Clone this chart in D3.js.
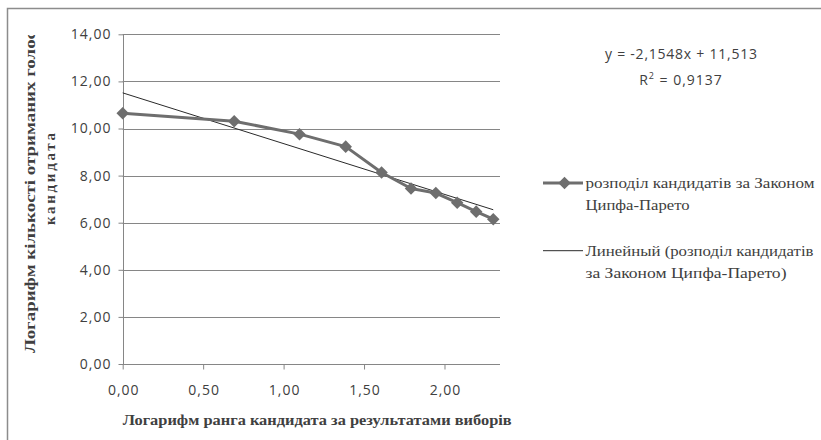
<!DOCTYPE html>
<html>
<head>
<meta charset="utf-8">
<script src="https://cdn.jsdelivr.net/npm/d3@7"></script>
<style>
  body { margin: 0; background: #fff; }
  svg { display: block; }
</style>
</head>
<body>
<div class="chart"></div>
<script>
// rank logarithm (x) and vote-count logarithm (y)
const logRank = [0, 0.693, 1.099, 1.386, 1.609, 1.792, 1.946, 2.079, 2.197, 2.303];
const logVotes = [10.65, 10.31, 9.76, 9.23, 8.13, 7.45, 7.26, 6.85, 6.47, 6.15];
const yTicks = [0, 2, 4, 6, 8, 10, 12, 14];
const xTicks = [0, 0.5, 1, 1.5, 2];
// linear trend as printed on the chart
const trendSlope = -2.1548;
const trendIntercept = 11.513;
const eqLabels = ["y = -2,1548x + 11,513", "R", "2", " = 0,9137"];
const legendLabels = [
    ["розподіл кандидатів за Законом", "Ципфа-Парето"],
    ["Линейный (розподіл кандидатів", "за Законом Ципфа-Парето)"]
];
// widths of the legend lines in the picture
const legendWidths = [[229, 104], [228, 201]];

const W = 821, H = 440;
const plot = { left: 122.7, right: 500, top: 34.3, bottom: 364 };
const txt = "#404040";
const grey = "#868686";
const sansFont = "'Open Sans', sans-serif";
const serifFont = "'Liberation Serif', 'DejaVu Serif', serif";

const fmt = v => d3.format(".2f")(v).replace(".", ",");

const svg = d3.select(".chart")
    .append("svg")
        .attr("width", W)
        .attr("height", H);

// outer chart border (only top and left in view)
svg.append("path")
    .attr("d", `M7.5,${H} V8.5 H${W}`)
    .attr("fill", "none")
    .attr("stroke", "#8c8c8c")
    .attr("stroke-width", 1.5);

const x = d3.scaleLinear().domain([0, 2.345]).range([plot.left, plot.right]);
const y = d3.scaleLinear().domain([0, 14]).range([plot.bottom, plot.top]);

// horizontal gridlines
svg.append("g")
    .selectAll("line")
    .data(yTicks.filter(d => d > 0))
    .join("line")
        .attr("x1", plot.left)
        .attr("x2", plot.right)
        .attr("y1", d => Math.round(y(d)) + 0.5)
        .attr("y2", d => Math.round(y(d)) + 0.5)
        .attr("stroke", grey);

// y axis
const yAxis = svg.append("g")
    .attr("transform", `translate(${Math.round(plot.left) + 0.5},0)`)
    .call(d3.axisLeft(y).tickValues(yTicks).tickFormat(fmt).tickSize(5).tickPadding(7));

// x axis
const xAxis = svg.append("g")
    .attr("transform", `translate(0,${Math.round(plot.bottom) + 0.5})`)
    .call(d3.axisBottom(x).tickValues(xTicks).tickFormat(fmt).tickSize(5).tickPadding(16));

[yAxis, xAxis].forEach(g => {
    g.select(".domain").attr("stroke", grey);
    g.selectAll(".tick line").attr("stroke", grey);
    g.selectAll("text")
        .attr("fill", txt)
        .style("font-family", sansFont)
        .style("font-size", "14px")
        .style("letter-spacing", "1px");
});
xAxis.selectAll("text").attr("dx", "0.5px");
xAxis.select(".domain").attr("d", `M${plot.left},0H${plot.right}`);
yAxis.select(".domain").attr("d", `M0,${plot.bottom}V${plot.top}`);

// trend line from the printed equation
const trendX = [0, d3.max(logRank)];
svg.append("line")
    .attr("x1", x(trendX[0]))
    .attr("y1", y(trendSlope * trendX[0] + trendIntercept))
    .attr("x2", x(trendX[1]))
    .attr("y2", y(trendSlope * trendX[1] + trendIntercept))
    .attr("stroke", "#2a2a2a")
    .attr("stroke-width", 1);

// data series
const points = logRank.map((v, i) => ({ x: v, y: logVotes[i] }));
const seriesColor = "#6e6e6e";
svg.append("path")
    .datum(points)
    .attr("d", d3.line().x(d => x(d.x)).y(d => y(d.y)))
    .attr("fill", "none")
    .attr("stroke", seriesColor)
    .attr("stroke-width", 3)
    .attr("stroke-linejoin", "round");

const diamond = d3.symbol().type(d3.symbolDiamond2).size(100);
svg.append("g")
    .selectAll("path")
    .data(points)
    .join("path")
        .attr("d", diamond)
        .attr("transform", d => `translate(${x(d.x)},${y(d.y)})`)
        .attr("fill", seriesColor);

// equation label
const eq = svg.append("g")
    .attr("fill", txt)
    .style("font-family", sansFont)
    .style("font-size", "14px");
eq.append("text")
    .attr("x", 681)
    .attr("y", 59)
    .attr("text-anchor", "middle")
    .attr("textLength", 152)
    .text(eqLabels[0]);
const r2 = eq.append("text")
    .attr("x", 681)
    .attr("y", 85)
    .attr("text-anchor", "middle")
    .style("letter-spacing", "1px");
r2.append("tspan").text(eqLabels[1]);
r2.append("tspan").attr("dy", -6).style("font-size", "9px").text(eqLabels[2]);
r2.append("tspan").attr("dy", 6).text(eqLabels[3]);

// axis titles
svg.append("text")
    .attr("x", 122.7)
    .attr("y", 425)
    .attr("textLength", 389)
    .attr("lengthAdjust", "spacingAndGlyphs")
    .attr("fill", txt)
    .style("font-family", serifFont)
    .style("font-weight", "bold")
    .style("font-size", "15px")
    .text("Логарифм ранга кандидата за результатами виборів");

svg.append("clipPath")
    .attr("id", "ytitle-clip")
    .append("rect")
        .attr("x", 0).attr("y", 35)
        .attr("width", 100).attr("height", 340);

const yTitle = svg.append("g")
    .attr("clip-path", "url(#ytitle-clip)")
    .attr("fill", txt)
    .style("font-family", serifFont)
    .style("font-weight", "bold")
    .style("font-size", "15px");
yTitle.append("text")
    .attr("transform", "translate(35,353) rotate(-90)")
    .attr("textLength", 322)
    .attr("lengthAdjust", "spacingAndGlyphs")
    .text("Логарифм кількості отриманих голос");
yTitle.append("text")
    .attr("transform", "translate(54.5,179) rotate(-90)")
    .attr("text-anchor", "middle")
    .attr("textLength", 92)
    .text("кандидата");

// legend
const legend = svg.append("g")
    .attr("fill", txt)
    .style("font-family", serifFont)
    .style("font-size", "15px");

const legendY = [183, 250.7];
legend.append("line")
    .attr("x1", 543).attr("x2", 583)
    .attr("y1", legendY[0]).attr("y2", legendY[0])
    .attr("stroke", seriesColor).attr("stroke-width", 3);
legend.append("path")
    .attr("d", diamond)
    .attr("transform", `translate(564.5,${legendY[0]})`)
    .attr("fill", seriesColor);
legend.append("line")
    .attr("x1", 543).attr("x2", 583)
    .attr("y1", legendY[1]).attr("y2", legendY[1])
    .attr("stroke", "#2a2a2a").attr("stroke-width", 1);

legendLabels.forEach((lines, i) => {
    lines.forEach((s, j) => {
        legend.append("text")
            .attr("x", 585.5)
            .attr("y", legendY[i] + 5 + j * 22)
            .attr("textLength", legendWidths[i][j])
            .attr("lengthAdjust", "spacingAndGlyphs")
            .text(s);
    });
});
</script>
</body>
</html>
